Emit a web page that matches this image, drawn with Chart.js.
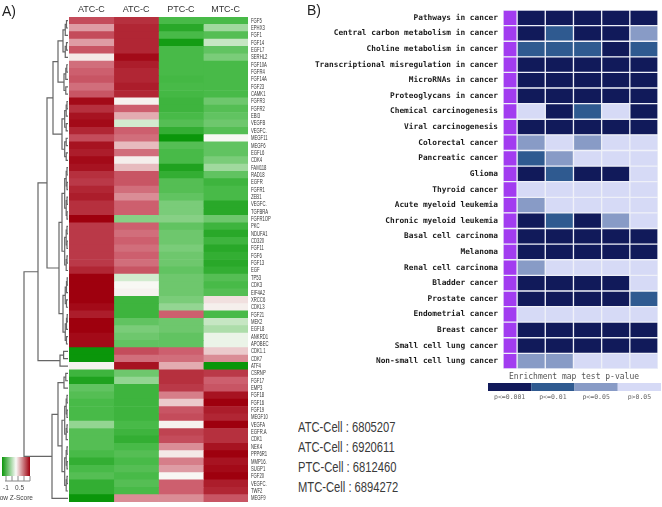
<!DOCTYPE html>
<html lang="en">
<head>
<meta charset="UTF-8">
<title>Gene heatmap and pathway enrichment</title>
<style>
body { margin:0; padding:0; background:#fff; width:662px; height:507px; overflow:hidden; position:relative; font-family:"Liberation Sans", Arial, sans-serif; }
#heatA { position:absolute; left:0; top:0; }
#heatB { position:absolute; left:300px; top:0; }
.tag { position:absolute; font-size:14px; color:#222; }
.cell { position:absolute; left:298px; font-size:14px; color:#3a3a3a; transform:scaleX(0.8); transform-origin:0 0; white-space:nowrap; }
</style>
</head>
<body>
<canvas id="heatA" width="274" height="507"></canvas>
<canvas id="heatB" width="362" height="400"></canvas>
<div class="tag" style="left:2px;top:3px">A)</div>
<div class="tag" style="left:307px;top:2px">B)</div>
<div id="cells"></div>
<script src="https://cdn.jsdelivr.net/npm/chart.js"></script>
<script>
// ---- panel A data (row z-scores) ----
const sampleCols = ['ATC-C', 'ATC-C', 'PTC-C', 'MTC-C'];
const genes = ['FGF5','EPHX3','FGF1','FGF14','EGFL7','SERHL2','FGF10A','FGFR4','FGF14A','FGF23','CAMK1',
  'FGFR3','FGFR2','EBI3','VEGFB','VEGFC.','MEGF11','MEGF6','EGFL6','CDK4','FAM118','RAD18','EGFR','FGFR1',
  'ZEB1','VEGFC.','TGFBRA','FGFR1OP','PKC','NDUFA1','CD320','FGF11','FGF6','FGF13','EGF','TP53','CDK3',
  'EIF4A2','XRCC6','CDKL3','FGF21','MEK2','EGFL8','ANKRD1','APOBEC','CDK1.1','CDK7','ATF4','CSRNP','FGF17',
  'EMP3','FGF18','FGF16','FGF19','MEGF10','VEGFA','EGFR.A','CDK1','NEK4','PPP6R1','MMP16.','SUGP1','FGF20',
  'VEGFC.','TWF2','MEGF9'];
const atc1 = [0.6,0.3,0.6,0.3,0.55,0.05,0.45,0.5,0.55,0.45,0.55,0.95,0.75,0.9,0.95,0.8,0.6,0.9,0.85,0.95,
  0.9,0.75,0.7,0.8,0.85,0.75,0.75,1.0,0.7,0.7,0.7,0.7,0.7,0.7,0.8,1.0,1.0,1.0,1.0,0.95,0.85,1.0,1.0,0.95,0.95,
  -1.0,-1.0,0.02,-0.75,-0.9,-0.6,-0.65,-0.7,-0.7,-0.7,-0.4,-0.65,-0.65,-0.65,-0.7,-0.8,-0.7,-0.65,-0.8,-0.8,-1.0];
const atc2 = [0.75,0.8,0.8,0.8,0.8,0.95,0.85,0.8,0.8,0.85,0.8,0.02,0.5,0.25,-0.15,0.5,0.45,0.2,0.45,0.03,
  0.2,0.55,0.55,0.45,0.35,0.5,0.5,-0.45,0.5,0.45,0.5,0.45,0.5,0.45,0.55,-0.15,0.0,0.02,-0.75,-0.75,-0.75,-0.6,
  -0.5,-0.55,-0.6,0.6,0.45,0.9,-0.55,-0.4,-0.75,-0.75,-0.75,-0.75,-0.75,-0.7,-0.75,-0.8,-0.7,-0.65,-0.7,-0.65,
  -0.7,-0.65,-0.7,0.35];
const ptc = [-0.7,-0.85,-0.7,-0.95,-0.7,-0.7,-0.7,-0.7,-0.72,-0.7,-0.72,-0.75,-0.75,-0.7,-0.65,-0.8,-1.0,-0.65,
  -0.7,-0.7,-0.9,-0.8,-0.65,-0.65,-0.6,-0.5,-0.5,-0.45,-0.6,-0.55,-0.55,-0.5,-0.55,-0.55,-0.6,-0.55,-0.55,-0.55,
  -0.5,-0.4,0.5,-0.55,-0.55,-0.6,-0.6,0.5,0.45,0.25,0.75,0.75,0.7,0.4,0.15,0.55,0.6,0.02,0.65,0.6,0.35,0.05,
  0.4,0.3,0.0,0.5,0.5,0.35];
const mtc = [-0.7,-0.35,-0.65,-0.2,-0.6,-0.5,-0.7,-0.7,-0.7,-0.7,-0.7,-0.55,-0.65,-0.6,-0.55,-0.65,0.0,-0.6,
  -0.6,-0.5,-0.35,-0.6,-0.75,-0.7,-0.7,-0.85,-0.85,-0.55,-0.75,-0.85,-0.75,-0.85,-0.8,-0.85,-0.8,-0.65,-0.7,
  -0.65,0.08,0.03,-0.7,-0.2,-0.3,-0.05,-0.05,0.15,0.35,-1.0,0.7,0.5,0.55,0.9,1.0,0.85,0.8,1.0,0.75,0.75,0.9,
  1.0,0.9,0.95,1.0,0.85,0.8,0.55];
const zScores = [atc1, atc2, ptc, mtc];

// row dendrogram: [height, left, right], leaves are row indexes
function span(a, b, h) {
  if (a === b) return a;
  const m = Math.floor((a + b) / 2);
  return [h, span(a, m, h * 0.55), span(m + 1, b, h * 0.55)];
}
const tree = [44,
  [30,
    [21,
      [15, [10, span(0, 5, 5), span(6, 10, 4)], span(11, 19, 6)],
      [9, span(20, 34, 6), span(35, 44, 5)]],
    span(45, 47, 8)],
  [16, [10, span(48, 50, 4), span(51, 64, 6)], 65]];

// ---- panel B data (1: p<=0.001, 2: p<=0.01, 3: p<=0.05, 4: p>0.05) ----
const pathways = ['Pathways in cancer','Central carbon metabolism in cancer','Choline metabolism in cancer',
  'Transcriptional misregulation in cancer','MicroRNAs in cancer','Proteoglycans in cancer',
  'Chemical carcinogenesis','Viral carcinogenesis','Colorectal cancer','Pancreatic cancer','Glioma',
  'Thyroid cancer','Acute myeloid leukemia','Chronic myeloid leukemia','Basal cell carcinoma','Melanoma',
  'Renal cell carcinoma','Bladder cancer','Prostate cancer','Endometrial cancer','Breast cancer',
  'Small cell lung cancer','Non-small cell lung cancer'];
const pLevels = [[1,1,1,1,1],[1,2,1,1,3],[2,2,2,1,2],[1,1,1,1,1],[1,1,1,1,1],[1,1,1,1,1],[4,1,2,4,1],
  [1,1,1,1,1],[3,4,3,4,4],[2,3,4,4,4],[1,2,1,1,4],[4,4,4,4,4],[3,4,4,4,4],[1,2,1,3,4],[1,1,1,1,1],
  [1,1,1,1,1],[3,4,4,4,4],[1,1,1,1,4],[1,1,1,1,2],[4,4,4,4,4],[1,1,1,1,1],[1,1,1,1,1],[3,3,4,4,4]];
const pLabels = ['p<=0.001', 'p<=0.01', 'p<=0.05', 'p>0.05'];
const pColors = ['#111a5a', '#2f5a90', '#889bc6', '#d6daf6'];

const cellNames = ['ATC-Cell', 'ATC-Cell', 'PTC-Cell', 'MTC-Cell'];
const cellIds = ['6805207', '6920611', '6812460', '6894272'];

// ---- colours ----
const zStops = [[-1, [10,150,10]], [-0.7, [72,186,72]], [0, [248,248,244]], [0.5, [205,95,110]], [1, [158,0,14]]];
function zColor(v) {
  for (let i = 1; i < zStops.length; i++) {
    if (v <= zStops[i][0]) {
      const [v0, c0] = zStops[i - 1], [v1, c1] = zStops[i];
      const t = Math.max(0, (v - v0) / (v1 - v0));
      return 'rgb(' + c0.map((c, k) => Math.round(c + (c1[k] - c) * t)).join(',') + ')';
    }
  }
  return 'rgb(158,0,14)';
}

// ---- panel A ----
const dendroPlugin = {
  id: 'dendro',
  afterDraw(chart) {
    const { ctx, chartArea, scales: { x, y } } = chart;
    ctx.save();

    // column headers
    ctx.fillStyle = '#333';
    ctx.font = '9px "Liberation Sans"';
    ctx.textAlign = 'center';
    ctx.textBaseline = 'middle';
    sampleCols.forEach((c, j) => ctx.fillText(c, x.getPixelForValue(j + 0.5), 10));
    ctx.textAlign = 'left';

    ctx.strokeStyle = '#666';
    ctx.lineWidth = 1.2;
    function place(node) {
      if (typeof node === 'number') return { x: chartArea.left - 1, y: y.getPixelForValue(node) };
      const a = place(node[1]), b = place(node[2]);
      const px = chartArea.left - 1 - node[0];
      ctx.beginPath();
      ctx.moveTo(a.x, a.y); ctx.lineTo(px, a.y); ctx.lineTo(px, b.y); ctx.lineTo(b.x, b.y);
      ctx.stroke();
      return { x: px, y: (a.y + b.y) / 2 };
    }
    place(tree);

    // gene names, condensed
    ctx.fillStyle = '#333';
    ctx.font = '7px "Liberation Sans"';
    genes.forEach((g, i) => {
      ctx.save();
      ctx.translate(chartArea.right + 3, y.getPixelForValue(i));
      ctx.scale(0.6, 1);
      ctx.fillText(g, 0, 0);
      ctx.restore();
    });

    // colour key
    const grad = ctx.createLinearGradient(2, 0, 30, 0);
    grad.addColorStop(0, zColor(-1));
    grad.addColorStop(0.5, '#fafaf8');
    grad.addColorStop(1, zColor(1));
    ctx.fillStyle = grad;
    ctx.fillRect(2, 457, 28, 19);
    ctx.strokeStyle = '#888';
    ctx.lineWidth = 1;
    ctx.beginPath();
    for (let k = 0; k < 5; k++) { ctx.moveTo(6 + k * 6, 476); ctx.lineTo(6 + k * 6, 481); }
    ctx.moveTo(5, 481); ctx.lineTo(30, 481);
    ctx.stroke();
    ctx.fillStyle = '#444';
    ctx.font = '6.5px "Liberation Sans"';
    ctx.fillText('-1', 3, 488);
    ctx.fillText('0.5', 15, 488);
    ctx.fillText('Row Z-Score', -5, 498);
    ctx.restore();
  }
};

new Chart(document.getElementById('heatA'), {
  type: 'bar',
  data: {
    labels: genes,
    datasets: sampleCols.map((name, j) => ({
      label: name,
      data: genes.map(() => 1),
      backgroundColor: zScores[j].map(zColor),
      borderWidth: 0,
      barPercentage: 1,
      categoryPercentage: 1
    }))
  },
  options: {
    indexAxis: 'y',
    responsive: false,
    animation: false,
    events: [],
    layout: { padding: { left: 69, right: 26, top: 17, bottom: 5 } },
    plugins: { legend: { display: false }, tooltip: { enabled: false } },
    scales: {
      x: { stacked: true, display: false, min: 0, max: 4 },
      y: { stacked: true, display: false }
    }
  },
  plugins: [dendroPlugin]
});

// ---- panel B ----
const pKeyPlugin = {
  id: 'pkey',
  afterDraw(chart) {
    const { ctx, chartArea } = chart;
    ctx.save();
    ctx.fillStyle = '#555';
    ctx.font = '8px "DejaVu Sans Mono"';
    ctx.textAlign = 'center';
    ctx.textBaseline = 'middle';
    ctx.fillText('Enrichment map test p-value', 274, chartArea.bottom + 8);
    const x0 = 188, w = 43.25, top = chartArea.bottom + 14;
    pColors.forEach((c, k) => {
      ctx.fillStyle = c;
      ctx.fillRect(x0 + k * w, top, w, 8);
    });
    ctx.fillStyle = '#666';
    ctx.font = '6.5px "DejaVu Sans Mono"';
    pLabels.forEach((t, k) => ctx.fillText(t, x0 + (k + 0.5) * w, top + 14));
    ctx.restore();
  }
};

new Chart(document.getElementById('heatB'), {
  type: 'bar',
  data: {
    labels: pathways,
    datasets: [{
      label: 'term',
      data: pathways.map(() => 0.5),
      backgroundColor: '#a23cf0'
    }].concat([0, 1, 2, 3, 4].map(j => ({
      label: 'set ' + (j + 1),
      data: pathways.map(() => 1),
      backgroundColor: pLevels.map(r => pColors[r[j] - 1])
    }))).map(ds => Object.assign(ds, {
      borderWidth: 1, borderColor: '#eef0f8', borderSkipped: false,
      barPercentage: 1, categoryPercentage: 1
    }))
  },
  options: {
    indexAxis: 'y',
    responsive: false,
    animation: false,
    events: [],
    layout: { padding: { left: 0, right: 4, top: 10, bottom: 31 } },
    plugins: { legend: { display: false }, tooltip: { enabled: false } },
    scales: {
      x: { stacked: true, display: false, min: 0, max: 5.5 },
      y: {
        stacked: true,
        grid: { display: false, drawTicks: false }, border: { display: false },
        ticks: { autoSkip: false, padding: 5, color: '#1a1a1a',
          font: { size: 7.8, family: 'DejaVu Sans Mono', weight: 'bold' } },
        afterFit: s => { s.width = 203; }
      }
    }
  },
  plugins: [pKeyPlugin]
});

// ---- sample ids ----
const cellsBox = document.getElementById('cells');
cellNames.forEach((n, i) => {
  const d = document.createElement('div');
  d.className = 'cell';
  d.style.top = (419 + i * 20) + 'px';
  d.textContent = n + ' : ' + cellIds[i];
  cellsBox.appendChild(d);
});
</script>
</body>
</html>
